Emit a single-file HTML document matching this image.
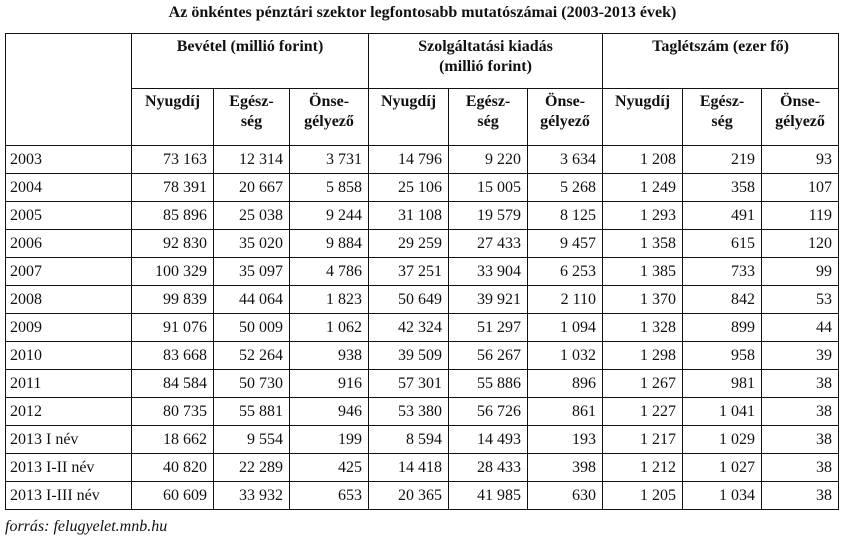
<!DOCTYPE html>
<html><head><meta charset="utf-8"><style>
html,body{margin:0;padding:0;background:#fff;width:845px;height:544px;overflow:hidden;font-family:"Liberation Serif",serif;color:#111}
.title{position:absolute;left:0;width:845px;top:4px;text-align:center;font-weight:bold;font-size:16px}
table{position:absolute;left:5px;top:33px;border-collapse:collapse;table-layout:fixed;width:833px;font-size:16px}
td{border:1.4px solid #111;padding:0 6px;height:27px;line-height:18px;text-align:right;white-space:nowrap}
td.l{text-align:left;padding-left:4px}
th{border:1.4px solid #111;font-weight:bold;vertical-align:top;text-align:center;line-height:20px;padding:3px 2px 0;font-size:16px}
.src{position:absolute;left:5px;top:518px;font-style:italic;font-size:16px}
</style></head><body>
<div class="title">Az önkéntes pénztári szektor legfontosabb mutatószámai (2003-2013 évek)</div>
<table>
<colgroup><col style="width:126px"><col style="width:82px"><col style="width:76px"><col style="width:79px"><col style="width:80px"><col style="width:79px"><col style="width:75px"><col style="width:80px"><col style="width:79px"><col style="width:77px"></colgroup>
<tr style="height:55px"><th rowspan="2"></th><th colspan="3">Bevétel (millió forint)</th><th colspan="3">Szolgáltatási kiadás<br>(millió forint)</th><th colspan="3">Taglétszám (ezer fő)</th></tr>
<tr style="height:57px"><th>Nyugdíj</th><th>Egész-<br>ség</th><th>Önse-<br>gélyező</th><th>Nyugdíj</th><th>Egész-<br>ség</th><th>Önse-<br>gélyező</th><th>Nyugdíj</th><th>Egész-<br>ség</th><th>Önse-<br>gélyező</th></tr>
<tr><td class="l">2003</td><td>73 163</td><td>12 314</td><td>3 731</td><td>14 796</td><td>9 220</td><td>3 634</td><td>1 208</td><td>219</td><td>93</td></tr>
<tr><td class="l">2004</td><td>78 391</td><td>20 667</td><td>5 858</td><td>25 106</td><td>15 005</td><td>5 268</td><td>1 249</td><td>358</td><td>107</td></tr>
<tr><td class="l">2005</td><td>85 896</td><td>25 038</td><td>9 244</td><td>31 108</td><td>19 579</td><td>8 125</td><td>1 293</td><td>491</td><td>119</td></tr>
<tr><td class="l">2006</td><td>92 830</td><td>35 020</td><td>9 884</td><td>29 259</td><td>27 433</td><td>9 457</td><td>1 358</td><td>615</td><td>120</td></tr>
<tr><td class="l">2007</td><td>100 329</td><td>35 097</td><td>4 786</td><td>37 251</td><td>33 904</td><td>6 253</td><td>1 385</td><td>733</td><td>99</td></tr>
<tr><td class="l">2008</td><td>99 839</td><td>44 064</td><td>1 823</td><td>50 649</td><td>39 921</td><td>2 110</td><td>1 370</td><td>842</td><td>53</td></tr>
<tr><td class="l">2009</td><td>91 076</td><td>50 009</td><td>1 062</td><td>42 324</td><td>51 297</td><td>1 094</td><td>1 328</td><td>899</td><td>44</td></tr>
<tr><td class="l">2010</td><td>83 668</td><td>52 264</td><td>938</td><td>39 509</td><td>56 267</td><td>1 032</td><td>1 298</td><td>958</td><td>39</td></tr>
<tr><td class="l">2011</td><td>84 584</td><td>50 730</td><td>916</td><td>57 301</td><td>55 886</td><td>896</td><td>1 267</td><td>981</td><td>38</td></tr>
<tr><td class="l">2012</td><td>80 735</td><td>55 881</td><td>946</td><td>53 380</td><td>56 726</td><td>861</td><td>1 227</td><td>1 041</td><td>38</td></tr>
<tr><td class="l">2013 I név</td><td>18 662</td><td>9 554</td><td>199</td><td>8 594</td><td>14 493</td><td>193</td><td>1 217</td><td>1 029</td><td>38</td></tr>
<tr><td class="l">2013 I-II név</td><td>40 820</td><td>22 289</td><td>425</td><td>14 418</td><td>28 433</td><td>398</td><td>1 212</td><td>1 027</td><td>38</td></tr>
<tr><td class="l">2013 I-III név</td><td>60 609</td><td>33 932</td><td>653</td><td>20 365</td><td>41 985</td><td>630</td><td>1 205</td><td>1 034</td><td>38</td></tr>
</table>
<div class="src">forrás: felugyelet.mnb.hu</div>
</body></html>
